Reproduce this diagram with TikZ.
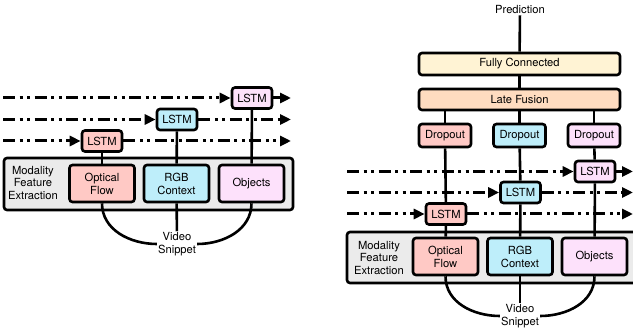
\documentclass[tikz,border=0pt]{standalone}
\usepackage{fontspec}
\setmainfont{TeX Gyre Heros}
\usetikzlibrary{arrows.meta}
\definecolor{pinkbox}{RGB}{255,201,197}
\definecolor{cyanbox}{RGB}{190,238,250}
\definecolor{magbox}{RGB}{253,225,251}
\definecolor{fcbox}{RGB}{255,243,212}
\definecolor{lfbox}{RGB}{255,220,192}
\definecolor{graybox}{RGB}{235,235,235}

\begin{document}
\begin{tikzpicture}[x=1pt,y=-1pt]
\tikzstyle{box}=[
  draw, line width=2.6pt, rounded corners=3pt,
  inner sep=0pt, align=center,
  font=\fontsize{11.2}{13}\selectfont ]
\tikzstyle{lstm}=[box, minimum width=40pt, minimum height=21pt]
\tikzstyle{modal}=[box, minimum width=65pt, minimum height=37pt]
\tikzstyle{drop}=[box, minimum width=52pt, minimum height=23pt]
\tikzstyle{wide}=[box, minimum width=201pt, minimum height=22pt]
\tikzstyle{panel}=[box, fill=graybox, minimum height=52pt]
\tikzstyle{txt}=[inner sep=1pt, align=center, font=\fontsize{11.2}{12.5}\selectfont]
\tikzstyle{lane}=[
  line width=3pt,
  dash pattern=on 12pt off 4.5pt on 3pt off 4.5pt on 3pt off 4.5pt,
  -{Triangle[length=11pt,width=10pt]} ]
\tikzstyle{link}=[line width=2.6pt]
\clip (0,0) rectangle (633,336);
\useasboundingbox (0,0) rectangle (633,336);

% left: recurrent fusion
\node[panel, minimum width=289pt] (panelL) at (148.5,184) {};
\node[txt] (modL) at (33,183) {Modality\\Feature\\Extraction};
\node[modal, fill=pinkbox] (flowL) at (102,183.5) {Optical\\Flow};
\node[modal, fill=cyanbox] (rgbL) at (176.5,183.5) {RGB\\Context};
\node[modal, fill=magbox] (objL) at (251.5,183.5) {Objects};
\node[lstm, fill=pinkbox] (lstmflowL) at (102,141) {LSTM};
\node[lstm, fill=cyanbox] (lstmrgbL) at (177,119.5) {LSTM};
\node[lstm, fill=magbox] (lstmobjL) at (252,98) {LSTM};
\node[txt] (snipL) at (177,244) {Video\\Snippet};
\coordinate (inL1) at (3,141);
\coordinate (inL2) at (3,119.5);
\coordinate (inL3) at (3,98);
\coordinate (outL1) at (291,141);
\coordinate (outL2) at (291,119.5);
\coordinate (outL3) at (291,98);
\draw[lane] (inL1) -- (lstmflowL.west);
\draw[lane] (lstmflowL.east) -- (outL1);
\draw[lane] (inL2) -- (lstmrgbL.west);
\draw[lane] (lstmrgbL.east) -- (outL2);
\draw[lane] (inL3) -- (lstmobjL.west);
\draw[lane] (lstmobjL.east) -- (outL3);
\draw[link] (flowL) -- (lstmflowL);
\draw[link] (rgbL) -- (lstmrgbL);
\draw[link] (objL) -- (lstmobjL);
\draw[link] (flowL.south) to[out=-90,in=180] (snipL.west);
\draw[link] (objL.south) to[out=-90,in=0] (snipL.east);
\draw[link] (rgbL) -- (snipL);

% right: late fusion
\node[txt] (predR) at (520,10) {Prediction};
\node[wide, fill=fcbox] (fcR) at (519.5,64) {Fully Connected};
\node[wide, fill=lfbox, minimum height=21pt] (lfR) at (519.5,99.5) {Late Fusion};
\node[drop, fill=pinkbox] (dropflowR) at (445,135.5) {Dropout};
\node[drop, fill=cyanbox] (droprgbR) at (519.5,135.5) {Dropout};
\node[drop, fill=magbox] (dropobjR) at (594,135.5) {Dropout};
\node[panel, minimum width=298pt, minimum height=51pt] (panelR) at (496,257.5) {};
\node[txt] (modR) at (379,258) {Modality\\Feature\\Extraction};
\node[modal, fill=pinkbox] (flowR) at (445.5,256.5) {Optical\\Flow};
\node[modal, fill=cyanbox] (rgbR) at (520,256.5) {RGB\\Context};
\node[modal, fill=magbox] (objR) at (594.5,256.5) {Objects};
\node[lstm, fill=pinkbox] (lstmflowR) at (446,214) {LSTM};
\node[lstm, fill=cyanbox] (lstmrgbR) at (520.5,192.5) {LSTM};
\node[lstm, fill=magbox] (lstmobjR) at (595,171.5) {LSTM};
\node[txt] (snipR) at (520,316) {Video\\Snippet};
\coordinate (inR1) at (347,214);
\coordinate (inR2) at (347,192.5);
\coordinate (inR3) at (347,171.5);
\coordinate (outR1) at (633,214);
\coordinate (outR2) at (633,192.5);
\coordinate (outR3) at (633,171.5);
\draw[lane] (inR1) -- (lstmflowR.west);
\draw[lane] (lstmflowR.east) -- (outR1);
\draw[lane] (inR2) -- (lstmrgbR.west);
\draw[lane] (lstmrgbR.east) -- (outR2);
\draw[lane] (inR3) -- (lstmobjR.west);
\draw[lane] (lstmobjR.east) -- (outR3);
\draw[link] (predR) -- (fcR);
\draw[link] (fcR) -- (lfR);
\draw[link] (dropflowR |- lfR.south) -- (dropflowR);
\draw[link] (droprgbR |- lfR.south) -- (droprgbR);
\draw[link] (dropobjR |- lfR.south) -- (dropobjR);
\draw[link] (dropflowR) -- (lstmflowR);
\draw[link] (droprgbR) -- (lstmrgbR);
\draw[link] (dropobjR) -- (lstmobjR);
\draw[link] (lstmflowR) -- (flowR);
\draw[link] (lstmrgbR) -- (rgbR);
\draw[link] (lstmobjR) -- (objR);
\draw[link] (flowR.south) to[out=-90,in=180] (snipR.west);
\draw[link] (objR.south) to[out=-90,in=0] (snipR.east);
\draw[link] (rgbR) -- (snipR);
\end{tikzpicture}
\end{document}
